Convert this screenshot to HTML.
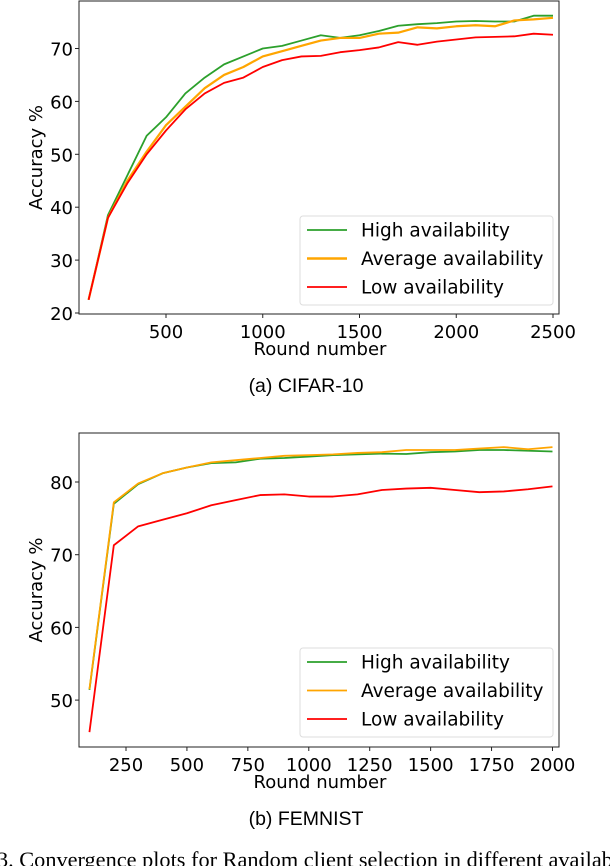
<!DOCTYPE html>
<html><head><meta charset="utf-8"><style>
body{margin:0;background:#fff;width:610px;height:866px;overflow:hidden;position:relative}
svg{position:absolute;left:0;top:0}
text{font-family:"DejaVu Sans","Liberation Sans",sans-serif;fill:#000}
.cap{font-family:"Liberation Sans",sans-serif}
.ser{font-family:"Liberation Serif",serif}
</style></head><body>
<svg id="s" width="610" height="866"></svg>
<script>
const cifarRounds=[100,200,300,400,500,600,700,800,900,1000,1100,1200,1300,1400,1500,1600,1700,1800,1900,2000,2100,2200,2300,2400,2500];
const cifarHigh=[22.5,38.5,46,53.5,57,61.5,64.5,67,68.5,70,70.5,71.5,72.5,72,72.5,73.3,74.3,74.6,74.8,75.1,75.2,75.1,75.1,76.2,76.2];
const cifarAvg=[22.5,38,45,50.5,55.5,59,62.5,65,66.5,68.5,69.5,70.5,71.5,72,72,72.8,73,74,73.8,74.2,74.4,74.2,75.3,75.5,75.8];
const cifarLow=[22.5,38,44.5,50,54.5,58.5,61.5,63.5,64.5,66.5,67.8,68.5,68.6,69.3,69.7,70.2,71.2,70.7,71.3,71.7,72.1,72.2,72.3,72.8,72.6];
const cifarXTicks=[500,1000,1500,2000,2500];
const cifarYTicks=[20,30,40,50,60,70];
const femRounds=[100,200,300,400,500,600,700,800,900,1000,1100,1200,1300,1400,1500,1600,1700,1800,1900,2000];
const femHigh=[51.4,77,79.7,81.2,82,82.6,82.7,83.2,83.3,83.5,83.7,83.8,83.9,83.85,84.1,84.2,84.4,84.4,84.3,84.2];
const femAvg=[51.5,77.2,79.8,81.2,82,82.7,83,83.3,83.6,83.7,83.8,84,84.1,84.4,84.4,84.4,84.6,84.8,84.5,84.8];
const femLow=[45.6,71.3,73.9,74.8,75.7,76.8,77.5,78.2,78.3,78,78,78.3,78.9,79.1,79.2,78.9,78.6,78.7,79,79.4];
const femXTicks=[250,500,750,1000,1250,1500,1750,2000];
const femYTicks=[50,60,70,80];
const legendLabels=["High availability","Average availability","Low availability"];
const colors=["#2ca02c","#ffa500","#ff0000"];
const NS="http://www.w3.org/2000/svg",S=document.getElementById('s');
function mk(t,a,p){const e=document.createElementNS(NS,t);for(const k in a)e.setAttribute(k,a[k]);(p||S).appendChild(e);return e;}
function chart(cfg){
 const g=mk('g',{});
 
 
 const X=v=>cfg.x0+(v-cfg.xv0)*cfg.xs, Y=v=>cfg.y0-(v-cfg.yv0)*cfg.ys;
 cfg.series.forEach((s,i)=>{
  const pl=mk('polyline',{points:cfg.rounds.map((r,j)=>X(r)+','+Y(s[j])).join(' '),fill:'none',stroke:colors[i],'stroke-width':i==1&&cfg.thick?2.2:1.8,'stroke-linejoin':'round'},g);
  
  
 });
 const r=mk('rect',{x:cfg.L,y:cfg.T,width:cfg.R-cfg.L,height:cfg.B-cfg.T,fill:'none',stroke:'#222','stroke-width':1},g);
 
 
 cfg.xt.forEach(v=>{mk('line',{x1:X(v),x2:X(v),y1:cfg.B,y2:cfg.B+4,stroke:'#222'},g);
  const t=mk('text',{x:X(v),y:cfg.B+24,'text-anchor':'middle','font-size':18},g);t.textContent=v;
  
  });
 cfg.yt.forEach(v=>{mk('line',{x1:cfg.L-4,x2:cfg.L,y1:Y(v),y2:Y(v),stroke:'#222'},g);
  const t=mk('text',{x:cfg.L-6,y:Y(v)+7,'text-anchor':'end','font-size':18},g);t.textContent=v;
  
  });
 const xt=mk('text',{x:320,y:cfg.B+41,'text-anchor':'middle','font-size':18},g);xt.textContent='Round number';
 
 
 const cy=(cfg.T+cfg.B)/2;
 const yt=mk('text',{x:0,y:0,transform:`translate(42,${cy}) rotate(-90)`,'text-anchor':'middle','font-size':18},g);yt.textContent='Accuracy %';
 
 
 const lg=mk('g',{},g);
 
 
 mk('rect',{x:300,y:cfg.lt,width:253,height:89,rx:3,fill:'#fff','fill-opacity':0.8,stroke:'#ddd'},lg);
 legendLabels.forEach((l,i)=>{const yy=cfg.lt+14+i*28.5;
  mk('line',{x1:307,x2:347,y1:yy,y2:yy,stroke:colors[i],'stroke-width':i==1&&cfg.thick?2.4:1.8},lg);
  const t=mk('text',{x:361,y:yy+6.5,'font-size':18.5},lg);t.textContent=l;
  
  });
 const c=mk('text',{x:306,y:cfg.B+78,'text-anchor':'middle','font-size':19.5,class:'cap'});c.textContent=cfg.cap;
 
 
}
chart({name:'cifar-chart',rounds:cifarRounds,series:[cifarHigh,cifarAvg,cifarLow],xt:cifarXTicks,yt:cifarYTicks,
 L:79,R:559,T:1,B:314,x0:166,xv0:500,xs:0.1935,y0:313,yv0:20,ys:5.29,lt:216,cap:'(a) CIFAR-10',thick:true});
chart({name:'femnist-chart',rounds:femRounds,series:[femHigh,femAvg,femLow],xt:femXTicks,yt:femYTicks,
 L:79,R:559,T:433,B:747,x0:126,xv0:250,xs:0.2437,y0:482,yv0:80,ys:7.27,lt:648,cap:'(b) FEMNIST',thick:false});
const f=mk('text',{x:-3,y:867,'font-size':22.3,class:'ser'});f.textContent='3.  Convergence plots for Random client selection in different availab';


</script>
</body></html>
